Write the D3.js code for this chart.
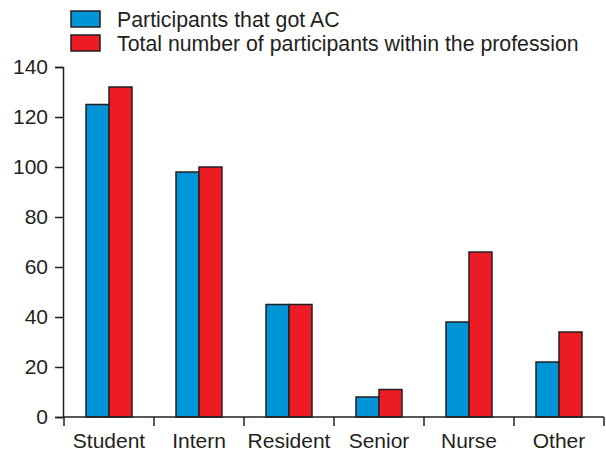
<!DOCTYPE html>
<html>
<head>
<meta charset="utf-8">
<script src="https://cdn.jsdelivr.net/npm/d3@7"></script>
<style>
  body { margin: 0; background: #fff; }
  text { font-family: "Liberation Sans", Arial, sans-serif; fill: #231f20; }
</style>
</head>
<body>
<svg id="chart" width="606" height="451"></svg>
<script>
const categories = ["Student", "Intern", "Resident", "Senior", "Nurse", "Other"];
const gotAC = [125, 98, 45, 8, 38, 22];
const total = [132, 100, 45, 11, 66, 34];
const seriesNames = ["Participants that got AC", "Total number of participants within the profession"];
const yTicks = [0, 20, 40, 60, 80, 100, 120, 140];

const colors = ["#0095d7", "#ed1c24"];
const ink = "#231f20";
const fontSize = 21;

const svg = d3.select("#chart"),
    mLeft = 63, mRight = 604, mTop = 67, mBottom = 417;

const x = d3.scaleBand().domain(categories).range([mLeft + 1, mRight]);
const y = d3.scaleLinear().domain([0, 140]).range([mBottom, mTop]);
const barW = 23;

const rows = categories.map((c, i) => ({ key: c, vals: [gotAC[i], total[i]] }));

// bars
const groups = svg.selectAll(".grp")
    .data(rows)
    .enter().append("g")
    .attr("class", "grp");

groups.selectAll("rect")
    .data(d => d.vals.map((v, j) => ({ key: d.key, v, j })))
    .enter().append("rect")
    .attr("x", d => x(d.key) + x.bandwidth() / 2 - barW + d.j * barW)
    .attr("y", d => y(d.v))
    .attr("width", barW)
    .attr("height", d => y(0) - y(d.v))
    .attr("fill", d => colors[d.j])
    .attr("stroke", ink)
    .attr("stroke-width", 1.5);

// y axis
const yAxis = svg.append("g")
    .attr("transform", "translate(" + mLeft + ",0)")
    .call(d3.axisLeft(y).tickValues(yTicks).tickSize(8).tickPadding(7));

// x axis
const xAxis = svg.append("g")
    .attr("transform", "translate(0," + mBottom + ")")
    .call(d3.axisBottom(x).tickSize(0).tickPadding(16));

// ticks at band boundaries
const bounds = categories.map(c => x(c)).concat([x.range()[1]]);
xAxis.selectAll(".bound")
    .data(bounds)
    .enter().append("line")
    .attr("class", "bound")
    .attr("x1", d => d).attr("x2", d => d)
    .attr("y1", 0).attr("y2", 9)
    .attr("stroke", ink)
    .attr("stroke-width", 1.5);

[yAxis, xAxis].forEach(a => {
    a.select(".domain").attr("stroke", ink).attr("stroke-width", 1.5);
    a.selectAll(".tick line").attr("stroke", ink).attr("stroke-width", 1.5);
    a.selectAll("text")
        .attr("font-family", "Liberation Sans, Arial, sans-serif")
        .attr("font-size", fontSize)
        .attr("fill", ink);
});
xAxis.select(".domain").attr("d", "M" + mLeft + ",0H" + mRight);

// legend
const legend = svg.append("g");
seriesNames.forEach((name, i) => {
    const ly = 11 + i * 24;
    legend.append("rect")
        .attr("x", 71).attr("y", ly)
        .attr("width", 29).attr("height", 16)
        .attr("fill", colors[i])
        .attr("stroke", ink)
        .attr("stroke-width", 1.5);
    legend.append("text")
        .attr("x", 117).attr("y", ly + 16)
        .attr("font-size", 21.3)
        .text(name);
});
</script>
</body>
</html>
